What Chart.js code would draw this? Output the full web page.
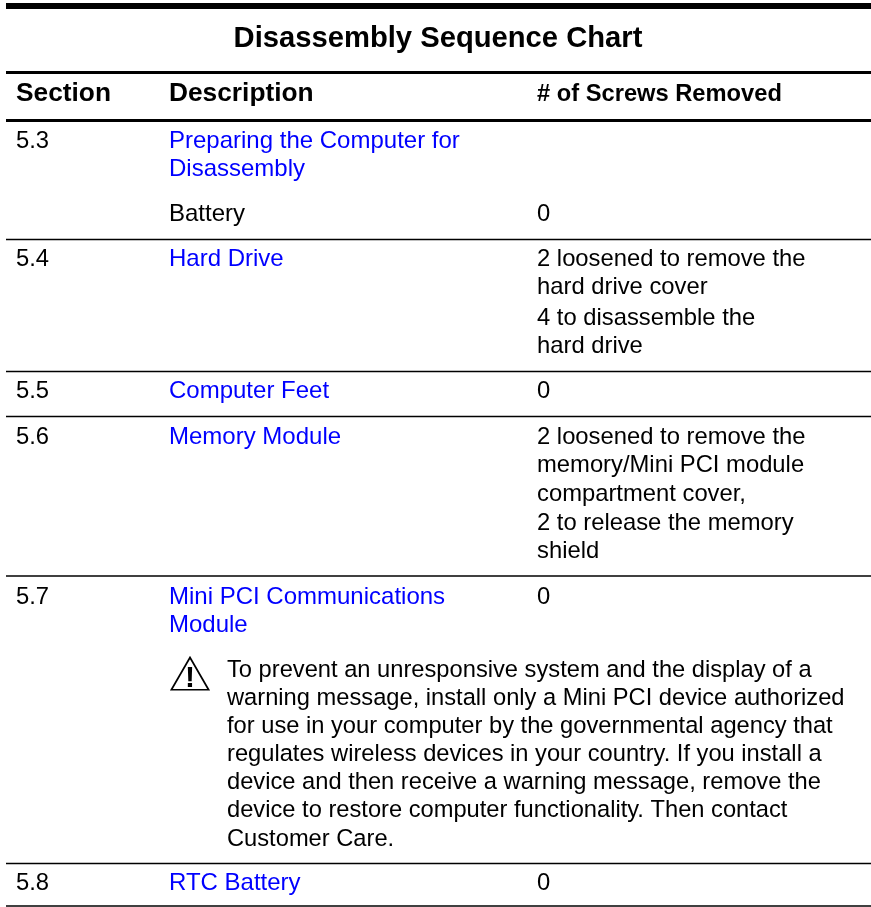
<!DOCTYPE html>
<html>
<head>
<meta charset="utf-8">
<title>Disassembly Sequence Chart</title>
<script src="https://cdn.jsdelivr.net/npm/chart.js@4"></script>
<style>
  html, body { margin: 0; padding: 0; background: #fff; }
  canvas { display: block; }
</style>
</head>
<body>
<canvas id="seqChart" width="871" height="907"></canvas>
<script>
// Table contents, one array per column, y = baseline
const titleText = ['Disassembly Sequence Chart'];
const titleRows = [47];
const headers = ['Section', 'Description', '# of Screws Removed'];
const headerRows = [100.5, 100.5, 100.5];

const sections = ['5.3', '5.4', '5.5', '5.6', '5.7', '5.8'];
const sectionRows = [148, 266, 398, 444, 604, 890];

const descriptions = ['Preparing the Computer for', 'Disassembly', 'Battery', 'Hard Drive',
  'Computer Feet', 'Memory Module', 'Mini PCI Communications', 'Module', 'RTC Battery'];
const descriptionRows = [148, 176, 221, 266, 398, 444, 604, 632, 890];
const descriptionLinks = [true, true, false, true, true, true, true, true, true];

const screws = ['0', '2 loosened to remove the', 'hard drive cover', '4 to disassemble the', 'hard drive',
  '0', '2 loosened to remove the', 'memory/Mini PCI module', 'compartment cover,',
  '2 to release the memory', 'shield', '0', '0'];
const screwRows = [221, 266, 294, 325, 353, 398, 444, 472, 501, 530, 558, 604, 890];

const cautionLines = ['To prevent an unresponsive system and the display of a',
  'warning message, install only a Mini PCI device authorized',
  'for use in your computer by the governmental agency that',
  'regulates wireless devices in your country. If you install a',
  'device and then receive a warning message, remove the',
  'device to restore computer functionality. Then contact',
  'Customer Care.'];
const cautionRows = [677, 705, 733, 761, 789, 817, 846];

const ruleRows = [6, 72.5, 120.5, 239.5, 371.5, 416.5, 576, 863.5, 906];
const ruleWeights = [6, 3, 3, 1.3, 1.3, 1.3, 1.3, 1.3, 1.3];

// Horizontal anchors of the columns
const columnX = { section: 16, description: 169, screws: 537, caution: 227, center: 438, ruleStart: 6, ruleEnd: 871 };
const warningPoint = { x: 190, y: 679 };

const BODY_FONT = '23.8px "Liberation Sans", Arial, sans-serif';
const DESC_FONT = '24px "Liberation Sans", Arial, sans-serif';
const CAUTION_FONT = '23.7px "Liberation Sans", Arial, sans-serif';
const HEAD_FONT = 'bold 26.3px "Liberation Sans", Arial, sans-serif';
const SCREWS_HEAD_FONT = 'bold 23.7px "Liberation Sans", Arial, sans-serif';
const TITLE_FONT = 'bold 29.2px "Liberation Sans", Arial, sans-serif';

// One line dataset per table rule
const ruleSets = ruleRows.map((y, i) => ({
  type: 'line',
  data: [{ x: columnX.ruleStart, y: y }, { x: columnX.ruleEnd, y: y }],
  borderColor: '#000',
  borderWidth: ruleWeights[i],
  pointRadius: 0,
  order: 2
}));

// Caution triangle
const warningSet = {
  type: 'scatter',
  data: [warningPoint],
  pointStyle: 'triangle',
  pointRadius: 21.5,
  pointBorderColor: '#000',
  pointBackgroundColor: '#fff',
  pointBorderWidth: 1.7,
  order: 1
};

// Draws the table text at scale positions
const tableText = {
  id: 'tableText',
  afterDatasetsDraw(chart) {
    const { ctx, scales } = chart;
    const put = (str, x, y, font, color, align) => {
      ctx.font = font;
      ctx.fillStyle = color || '#000';
      ctx.textAlign = align || 'left';
      ctx.textBaseline = 'alphabetic';
      ctx.fillText(str, scales.x.getPixelForValue(x), scales.y.getPixelForValue(y));
    };
    ctx.save();
    put(titleText[0], columnX.center, titleRows[0], TITLE_FONT, '#000', 'center');
    put(headers[0], columnX.section, headerRows[0], HEAD_FONT);
    put(headers[1], columnX.description, headerRows[1], HEAD_FONT);
    put(headers[2], columnX.screws, headerRows[2], SCREWS_HEAD_FONT);
    sections.forEach((s, i) => put(s, columnX.section, sectionRows[i], BODY_FONT));
    descriptions.forEach((s, i) => put(s, columnX.description, descriptionRows[i], DESC_FONT, descriptionLinks[i] ? '#0000ff' : '#000'));
    screws.forEach((s, i) => put(s, columnX.screws, screwRows[i], BODY_FONT));
    cautionLines.forEach((s, i) => put(s, columnX.caution, cautionRows[i], CAUTION_FONT));
    put('!', warningPoint.x, warningPoint.y + 8, 'bold 30px "Liberation Sans", Arial, sans-serif', '#000', 'center');
    ctx.restore();
  }
};

const ctx = document.getElementById('seqChart').getContext('2d');
new Chart(ctx, {
  type: 'scatter',
  data: { datasets: [...ruleSets, warningSet] },
  plugins: [tableText],
  options: {
    responsive: false,
    animation: false,
    layout: { padding: 0, autoPadding: false },
    plugins: { legend: { display: false }, tooltip: { enabled: false } },
    scales: {
      x: { type: 'linear', display: false, min: 0, max: 871 },
      y: { type: 'linear', display: false, min: 0, max: 907, reverse: true }
    }
  }
});
</script>
</body>
</html>
